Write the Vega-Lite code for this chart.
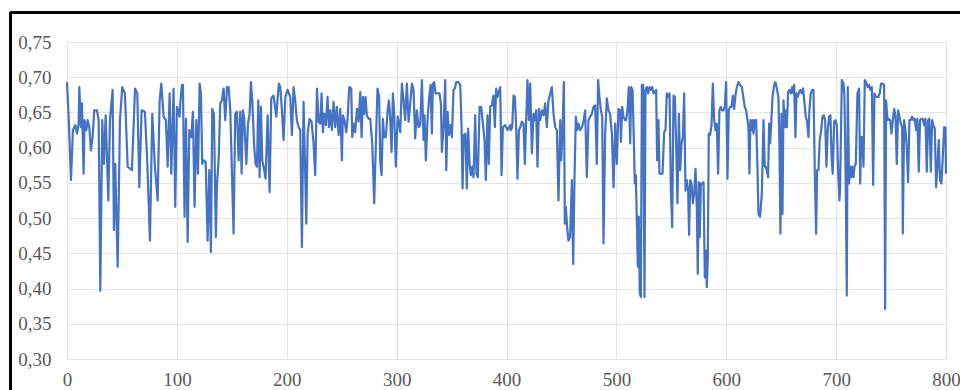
{
  "$schema": "https://vega.github.io/schema/vega-lite/v6.json",
  "width": 879,
  "height": 317,
  "autosize": {"type": "none"},
  "padding": {"left": 67, "top": 42, "right": 14, "bottom": 31},
  "background": "white",
  "config": {
    "view": {"stroke": null},
    "locale": {"number": {"decimal": ",", "thousands": " ", "grouping": [3], "currency": ["", ""]}}
  },
  "data": {"values": [
    {"t":0,"v":0.693},{"t":1.5,"v":0.644},{"t":3.6,"v":0.554},{"t":5.4,"v":0.625},{"t":7.6,"v":0.632},{"t":9.1,"v":0.620},{"t":10.6,"v":0.634},{"t":11.2,"v":0.686},{"t":12.7,"v":0.629},{"t":13.6,"v":0.663},{"t":15.1,"v":0.563},{"t":16.0,"v":0.639},{"t":17.6,"v":0.625},{"t":18.8,"v":0.639},{"t":20.3,"v":0.629},{"t":21.8,"v":0.596},{"t":23.3,"v":0.615},{"t":24.8,"v":0.653},{"t":27.3,"v":0.653},{"t":28.8,"v":0.639},{"t":30.3,"v":0.397},{"t":32.1,"v":0.639},{"t":33.6,"v":0.577},{"t":35.2,"v":0.646},{"t":37.6,"v":0.525},{"t":39.1,"v":0.639},{"t":41.5,"v":0.682},{"t":42.7,"v":0.483},{"t":43.9,"v":0.577},{"t":46.1,"v":0.431},{"t":48.2,"v":0.639},{"t":50.3,"v":0.686},{"t":52.7,"v":0.677},{"t":55.2,"v":0.573},{"t":59.1,"v":0.568},{"t":61.9,"v":0.684},{"t":64.0,"v":0.677},{"t":65.8,"v":0.544},{"t":67.9,"v":0.653},{"t":70.9,"v":0.651},{"t":73.1,"v":0.577},{"t":75.5,"v":0.468},{"t":77.6,"v":0.648},{"t":80.0,"v":0.573},{"t":82.5,"v":0.525},{"t":84.3,"v":0.667},{"t":85.8,"v":0.691},{"t":87.9,"v":0.644},{"t":90.0,"v":0.639},{"t":91.6,"v":0.573},{"t":93.4,"v":0.677},{"t":94.9,"v":0.563},{"t":97.0,"v":0.684},{"t":98.5,"v":0.516},{"t":100.1,"v":0.658},{"t":102.5,"v":0.644},
    {"t":103.1,"v":0.663},{"t":104.6,"v":0.689},{"t":105.5,"v":0.689},{"t":106.1,"v":0.615},{"t":107.0,"v":0.502},{"t":108.3,"v":0.641},{"t":109.8,"v":0.466},{"t":111.3,"v":0.625},{"t":113.1,"v":0.615},{"t":114.6,"v":0.651},{"t":116.1,"v":0.516},{"t":117.7,"v":0.639},{"t":119.2,"v":0.563},{"t":120.7,"v":0.691},{"t":121.9,"v":0.677},{"t":123.1,"v":0.577},{"t":124.3,"v":0.582},{"t":126.2,"v":0.580},{"t":128.0,"v":0.468},{"t":129.5,"v":0.568},{"t":131.0,"v":0.452},{"t":132.2,"v":0.655},{"t":133.7,"v":0.648},{"t":135.5,"v":0.473},{"t":136.5,"v":0.549},{"t":138.0,"v":0.582},{"t":139.5,"v":0.663},{"t":141.0,"v":0.667},{"t":142.5,"v":0.684},{"t":144.0,"v":0.639},{"t":145.6,"v":0.686},{"t":147.1,"v":0.686},{"t":148.6,"v":0.653},{"t":151.6,"v":0.478},{"t":153.1,"v":0.648},{"t":154.7,"v":0.651},{"t":156.2,"v":0.582},{"t":157.7,"v":0.651},{"t":158.9,"v":0.563},{"t":160.1,"v":0.653},{"t":161.3,"v":0.641},{"t":163.2,"v":0.577},{"t":164.7,"v":0.634},{"t":166.2,"v":0.648},{"t":167.4,"v":0.693},{"t":168.6,"v":0.667},{"t":170.4,"v":0.601},{"t":171.6,"v":0.577},{"t":172.9,"v":0.573},{"t":174.1,"v":0.667},{"t":175.3,"v":0.558},{"t":176.5,"v":0.658},{"t":177.7,"v":0.582},{"t":178.9,"v":0.573},{"t":180.7,"v":0.556},{"t":182.6,"v":0.646},{"t":184.4,"v":0.537},{"t":185.9,"v":0.670},{"t":188.0,"v":0.674},{"t":190.5,"v":0.644},{"t":191.7,"v":0.670},{"t":192.9,"v":0.691},{"t":194.1,"v":0.686},{"t":195.6,"v":0.653},{"t":197.1,"v":0.611},{"t":198.7,"v":0.672},{"t":200.8,"v":0.682},{"t":203.2,"v":0.672},
    {"t":204.7,"v":0.618},{"t":206.2,"v":0.686},{"t":207.7,"v":0.667},{"t":209.2,"v":0.639},{"t":210.8,"v":0.629},{"t":212.3,"v":0.625},{"t":213.8,"v":0.459},{"t":215.3,"v":0.665},{"t":216.8,"v":0.563},{"t":217.8,"v":0.492},{"t":219.0,"v":0.620},{"t":220.8,"v":0.641},{"t":222.6,"v":0.637},{"t":224.4,"v":0.606},{"t":225.9,"v":0.561},{"t":227.5,"v":0.684},{"t":229.0,"v":0.637},{"t":230.5,"v":0.634},{"t":231.7,"v":0.677},{"t":232.9,"v":0.622},{"t":234.1,"v":0.648},{"t":235.6,"v":0.632},{"t":237.1,"v":0.672},{"t":238.4,"v":0.629},{"t":239.6,"v":0.653},{"t":241.1,"v":0.625},{"t":242.6,"v":0.665},{"t":244.1,"v":0.629},{"t":245.6,"v":0.658},{"t":247.2,"v":0.618},{"t":248.7,"v":0.655},{"t":250.2,"v":0.582},{"t":251.1,"v":0.646},{"t":252.6,"v":0.639},{"t":254.1,"v":0.622},{"t":255.3,"v":0.639},{"t":256.9,"v":0.686},{"t":258.7,"v":0.684},{"t":259.6,"v":0.615},{"t":260.8,"v":0.634},{"t":262.3,"v":0.622},{"t":263.9,"v":0.655},{"t":265.4,"v":0.637},{"t":266.9,"v":0.679},{"t":268.1,"v":0.615},{"t":269.3,"v":0.672},{"t":270.5,"v":0.648},{"t":271.7,"v":0.672},{"t":272.9,"v":0.646},{"t":274.5,"v":0.641},{"t":276.0,"v":0.641},{"t":277.8,"v":0.606},{"t":279.6,"v":0.521},{"t":281.1,"v":0.606},{"t":282.6,"v":0.684},{"t":284.1,"v":0.672},{"t":285.1,"v":0.580},{"t":286.3,"v":0.561},{"t":287.5,"v":0.641},{"t":288.7,"v":0.615},{"t":290.2,"v":0.615},{"t":291.8,"v":0.653},{"t":293.0,"v":0.667},{"t":294.2,"v":0.641},{"t":295.4,"v":0.594},{"t":296.6,"v":0.677},{"t":297.8,"v":0.648},{"t":299.3,"v":0.573},{"t":300.9,"v":0.644},{"t":302.7,"v":0.629},
    {"t":303.3,"v":0.622},{"t":304.8,"v":0.691},{"t":306.3,"v":0.667},{"t":307.8,"v":0.639},{"t":309.3,"v":0.691},{"t":310.9,"v":0.637},{"t":312.4,"v":0.663},{"t":313.9,"v":0.691},{"t":315.4,"v":0.682},{"t":316.9,"v":0.613},{"t":318.4,"v":0.653},{"t":320.0,"v":0.629},{"t":321.5,"v":0.632},{"t":323.0,"v":0.696},{"t":324.5,"v":0.611},{"t":325.4,"v":0.646},{"t":326.6,"v":0.582},{"t":328.2,"v":0.641},{"t":329.7,"v":0.672},{"t":330.9,"v":0.689},{"t":332.1,"v":0.620},{"t":333.0,"v":0.691},{"t":334.2,"v":0.693},{"t":335.4,"v":0.677},{"t":337.2,"v":0.677},{"t":339.0,"v":0.677},{"t":340.3,"v":0.663},{"t":341.2,"v":0.594},{"t":342.7,"v":0.629},{"t":344.2,"v":0.696},{"t":345.2,"v":0.568},{"t":346.4,"v":0.651},{"t":347.6,"v":0.618},{"t":348.8,"v":0.632},{"t":350.3,"v":0.615},{"t":351.8,"v":0.682},{"t":353.0,"v":0.684},{"t":354.2,"v":0.693},{"t":356.3,"v":0.693},{"t":357.9,"v":0.689},{"t":359.1,"v":0.629},{"t":360.0,"v":0.542},{"t":361.2,"v":0.618},{"t":362.7,"v":0.620},{"t":363.9,"v":0.542},{"t":365.1,"v":0.627},{"t":366.4,"v":0.577},{"t":367.6,"v":0.561},{"t":368.8,"v":0.573},{"t":370.0,"v":0.558},{"t":371.5,"v":0.646},{"t":372.7,"v":0.563},{"t":373.9,"v":0.558},{"t":375.5,"v":0.658},{"t":377.0,"v":0.658},{"t":378.5,"v":0.634},{"t":380.0,"v":0.611},{"t":381.2,"v":0.554},{"t":382.7,"v":0.646},{"t":383.9,"v":0.577},{"t":385.2,"v":0.658},{"t":386.7,"v":0.660},{"t":388.2,"v":0.674},{"t":389.4,"v":0.629},{"t":390.6,"v":0.684},{"t":391.8,"v":0.672},{"t":393.0,"v":0.679},{"t":394.3,"v":0.686},{"t":395.5,"v":0.561},{"t":396.7,"v":0.629},{"t":398.8,"v":0.632},{"t":400.9,"v":0.625},{"t":403.4,"v":0.632},
    {"t":404.0,"v":0.625},{"t":405.2,"v":0.629},{"t":406.4,"v":0.674},{"t":407.6,"v":0.672},{"t":408.8,"v":0.629},{"t":410.0,"v":0.556},{"t":411.3,"v":0.625},{"t":412.5,"v":0.629},{"t":414.0,"v":0.637},{"t":415.5,"v":0.634},{"t":416.7,"v":0.577},{"t":417.9,"v":0.639},{"t":419.1,"v":0.696},{"t":420.4,"v":0.639},{"t":421.6,"v":0.691},{"t":423.1,"v":0.592},{"t":424.6,"v":0.648},{"t":426.1,"v":0.639},{"t":427.0,"v":0.653},{"t":428.2,"v":0.573},{"t":429.5,"v":0.655},{"t":430.7,"v":0.639},{"t":432.2,"v":0.653},{"t":433.7,"v":0.646},{"t":435.2,"v":0.663},{"t":436.7,"v":0.629},{"t":438.2,"v":0.667},{"t":439.8,"v":0.677},{"t":441.3,"v":0.686},{"t":442.8,"v":0.648},{"t":444.3,"v":0.629},{"t":445.8,"v":0.625},{"t":447.3,"v":0.525},{"t":448.9,"v":0.639},{"t":449.8,"v":0.582},{"t":451.0,"v":0.625},{"t":452.2,"v":0.693},{"t":453.1,"v":0.492},{"t":454.0,"v":0.516},{"t":455.2,"v":0.487},{"t":456.4,"v":0.468},{"t":457.9,"v":0.473},{"t":459.5,"v":0.554},{"t":460.7,"v":0.435},{"t":461.9,"v":0.558},{"t":463.1,"v":0.644},{"t":464.3,"v":0.625},{"t":465.5,"v":0.634},{"t":467.0,"v":0.625},{"t":468.6,"v":0.629},{"t":470.1,"v":0.637},{"t":471.6,"v":0.653},{"t":473.1,"v":0.558},{"t":474.6,"v":0.639},{"t":476.1,"v":0.644},{"t":477.7,"v":0.648},{"t":479.2,"v":0.658},{"t":480.7,"v":0.660},{"t":482.2,"v":0.577},{"t":483.4,"v":0.696},{"t":484.6,"v":0.672},{"t":485.9,"v":0.653},{"t":487.1,"v":0.644},{"t":488.3,"v":0.464},{"t":489.8,"v":0.620},{"t":491.3,"v":0.670},{"t":492.8,"v":0.653},{"t":494.3,"v":0.648},{"t":495.9,"v":0.620},{"t":497.4,"v":0.544},{"t":498.9,"v":0.634},{"t":500.4,"v":0.577},{"t":501.9,"v":0.655},{"t":503.5,"v":0.653},
    {"t":504.1,"v":0.608},{"t":505.3,"v":0.658},{"t":506.5,"v":0.644},{"t":507.7,"v":0.639},{"t":508.9,"v":0.639},{"t":510.1,"v":0.653},{"t":511.3,"v":0.686},{"t":512.6,"v":0.606},{"t":513.5,"v":0.686},{"t":514.7,"v":0.682},{"t":515.6,"v":0.629},{"t":516.8,"v":0.549},{"t":517.7,"v":0.561},{"t":518.6,"v":0.497},{"t":519.5,"v":0.431},{"t":520.4,"v":0.502},{"t":521.3,"v":0.393},{"t":522.3,"v":0.388},{"t":523.2,"v":0.689},{"t":524.4,"v":0.689},{"t":525.6,"v":0.388},{"t":526.5,"v":0.682},{"t":527.7,"v":0.686},{"t":528.9,"v":0.677},{"t":530.2,"v":0.686},{"t":531.4,"v":0.682},{"t":532.6,"v":0.686},{"t":533.8,"v":0.677},{"t":535.0,"v":0.679},{"t":536.2,"v":0.682},{"t":537.1,"v":0.582},{"t":538.3,"v":0.639},{"t":539.2,"v":0.563},{"t":540.5,"v":0.563},{"t":542.0,"v":0.563},{"t":543.5,"v":0.622},{"t":544.7,"v":0.625},{"t":545.9,"v":0.677},{"t":547.1,"v":0.672},{"t":548.4,"v":0.677},{"t":549.6,"v":0.539},{"t":550.8,"v":0.487},{"t":552.0,"v":0.674},{"t":553.2,"v":0.672},{"t":554.4,"v":0.606},{"t":555.6,"v":0.521},{"t":556.9,"v":0.648},{"t":558.1,"v":0.568},{"t":559.3,"v":0.606},{"t":560.5,"v":0.615},{"t":561.7,"v":0.677},{"t":562.9,"v":0.539},{"t":564.1,"v":0.554},{"t":565.3,"v":0.539},{"t":566.2,"v":0.476},{"t":567.2,"v":0.554},{"t":568.4,"v":0.549},{"t":569.6,"v":0.521},{"t":570.8,"v":0.535},{"t":572.0,"v":0.570},{"t":573.2,"v":0.516},{"t":574.1,"v":0.421},{"t":575.0,"v":0.551},{"t":575.9,"v":0.473},{"t":576.9,"v":0.549},{"t":578.1,"v":0.549},{"t":579.3,"v":0.551},{"t":580.5,"v":0.416},{"t":581.4,"v":0.454},{"t":582.3,"v":0.402},{"t":583.2,"v":0.440},{"t":584.1,"v":0.620},{"t":585.3,"v":0.618},{"t":586.6,"v":0.632},{"t":587.8,"v":0.691},{"t":589.0,"v":0.639},{"t":590.2,"v":0.625},{"t":591.4,"v":0.634},{"t":592.6,"v":0.563},{"t":593.8,"v":0.653},{"t":595.0,"v":0.658},{"t":596.3,"v":0.653},{"t":597.5,"v":0.653},{"t":598.7,"v":0.658},{"t":599.9,"v":0.693},{"t":601.1,"v":0.556},{"t":602.3,"v":0.653},{"t":603.5,"v":0.658},
    {"t":604.8,"v":0.658},{"t":606.0,"v":0.674},{"t":607.2,"v":0.655},{"t":608.4,"v":0.674},{"t":609.6,"v":0.686},{"t":611.1,"v":0.693},{"t":612.6,"v":0.689},{"t":614.2,"v":0.686},{"t":615.7,"v":0.670},{"t":616.9,"v":0.658},{"t":618.1,"v":0.653},{"t":619.3,"v":0.639},{"t":620.2,"v":0.629},{"t":621.1,"v":0.563},{"t":622.0,"v":0.639},{"t":623.0,"v":0.625},{"t":623.9,"v":0.639},{"t":624.8,"v":0.620},{"t":626.0,"v":0.639},{"t":627.2,"v":0.639},{"t":628.4,"v":0.573},{"t":629.3,"v":0.506},{"t":630.8,"v":0.502},{"t":632.4,"v":0.535},{"t":633.9,"v":0.639},{"t":635.1,"v":0.573},{"t":636.0,"v":0.573},{"t":636.9,"v":0.568},{"t":638.1,"v":0.558},{"t":639.0,"v":0.634},{"t":639.9,"v":0.606},{"t":640.9,"v":0.634},{"t":642.1,"v":0.672},{"t":643.6,"v":0.689},{"t":644.8,"v":0.693},{"t":646.0,"v":0.684},{"t":647.5,"v":0.672},{"t":648.4,"v":0.606},{"t":649.3,"v":0.478},{"t":650.3,"v":0.648},{"t":651.2,"v":0.506},{"t":652.1,"v":0.667},{"t":653.3,"v":0.629},{"t":654.2,"v":0.653},{"t":655.1,"v":0.629},{"t":656.3,"v":0.679},{"t":657.5,"v":0.682},{"t":658.8,"v":0.677},{"t":660.0,"v":0.686},{"t":661.2,"v":0.677},{"t":661.8,"v":0.689},{"t":663.0,"v":0.615},{"t":663.9,"v":0.677},{"t":665.1,"v":0.672},{"t":666.3,"v":0.679},{"t":667.5,"v":0.682},{"t":668.7,"v":0.677},{"t":669.9,"v":0.684},{"t":671.2,"v":0.663},{"t":672.4,"v":0.644},{"t":673.6,"v":0.637},{"t":674.8,"v":0.615},{"t":675.7,"v":0.653},{"t":676.9,"v":0.677},{"t":678.2,"v":0.682},{"t":679.4,"v":0.682},{"t":680.6,"v":0.563},{"t":681.8,"v":0.478},{"t":682.7,"v":0.568},{"t":683.9,"v":0.568},{"t":685.1,"v":0.611},{"t":686.4,"v":0.625},{"t":687.6,"v":0.644},{"t":688.8,"v":0.646},{"t":690.0,"v":0.639},{"t":691.2,"v":0.573},{"t":692.4,"v":0.625},{"t":693.6,"v":0.644},{"t":694.8,"v":0.646},{"t":696.0,"v":0.582},{"t":696.9,"v":0.563},{"t":698.2,"v":0.637},{"t":699.4,"v":0.639},{"t":700.6,"v":0.632},{"t":701.8,"v":0.568},{"t":703.0,"v":0.525},
    {"t":703.6,"v":0.544},{"t":705.2,"v":0.696},{"t":706.7,"v":0.691},{"t":707.6,"v":0.672},{"t":708.8,"v":0.544},{"t":709.7,"v":0.390},{"t":710.6,"v":0.686},{"t":711.8,"v":0.549},{"t":712.7,"v":0.573},{"t":713.6,"v":0.558},{"t":714.6,"v":0.573},{"t":715.8,"v":0.558},{"t":716.7,"v":0.573},{"t":717.9,"v":0.577},{"t":719.4,"v":0.677},{"t":720.9,"v":0.684},{"t":721.9,"v":0.549},{"t":722.8,"v":0.615},{"t":723.7,"v":0.615},{"t":724.9,"v":0.573},{"t":726.1,"v":0.696},{"t":727.3,"v":0.693},{"t":728.8,"v":0.686},{"t":730.0,"v":0.689},{"t":731.2,"v":0.682},{"t":732.5,"v":0.686},{"t":733.7,"v":0.547},{"t":734.9,"v":0.677},{"t":736.1,"v":0.672},{"t":737.3,"v":0.672},{"t":738.5,"v":0.672},{"t":739.7,"v":0.677},{"t":740.9,"v":0.691},{"t":742.4,"v":0.691},{"t":743.7,"v":0.689},{"t":744.6,"v":0.371},{"t":745.5,"v":0.667},{"t":746.7,"v":0.639},{"t":747.9,"v":0.641},{"t":749.2,"v":0.639},{"t":750.4,"v":0.620},{"t":751.6,"v":0.639},{"t":752.8,"v":0.655},{"t":754.0,"v":0.646},{"t":755.2,"v":0.577},{"t":756.4,"v":0.653},{"t":757.7,"v":0.644},{"t":758.9,"v":0.634},{"t":760.1,"v":0.629},{"t":760.7,"v":0.478},{"t":761.9,"v":0.639},{"t":763.1,"v":0.625},{"t":764.3,"v":0.601},{"t":765.5,"v":0.551},{"t":766.7,"v":0.639},{"t":767.9,"v":0.639},{"t":769.1,"v":0.644},{"t":770.4,"v":0.639},{"t":771.6,"v":0.641},{"t":772.8,"v":0.625},{"t":774.0,"v":0.641},{"t":775.2,"v":0.566},{"t":776.4,"v":0.639},{"t":777.7,"v":0.641},{"t":778.9,"v":0.641},{"t":780.1,"v":0.632},{"t":781.3,"v":0.641},{"t":782.5,"v":0.566},{"t":783.7,"v":0.639},{"t":784.9,"v":0.641},{"t":786.2,"v":0.566},{"t":787.4,"v":0.639},{"t":788.6,"v":0.632},{"t":789.8,"v":0.627},{"t":791.0,"v":0.544},{"t":792.2,"v":0.573},{"t":793.4,"v":0.611},{"t":794.6,"v":0.554},{"t":795.8,"v":0.549},{"t":797.1,"v":0.587},{"t":798.3,"v":0.629},{"t":799.5,"v":0.629},{"t":800.0,"v":0.563}
  ]},
  "layer": [
    {
      "mark": {"type": "line", "color": "#4472C4", "strokeWidth": 2.2, "strokeJoin": "round"},
      "encoding": {
        "x": {
          "field": "t", "type": "quantitative",
          "scale": {"domain": [0, 800], "nice": false, "zero": false},
          "axis": {
            "title": null, "values": [0, 100, 200, 300, 400, 500, 600, 700, 800], "tickCount": 20, "format": "d",
            "domain": false, "ticks": false, "tickSize": 0, "grid": true, "gridColor": "#e4e4e4", "gridWidth": 1,
            "labelFont": "Liberation Serif", "labelFontSize": 19, "labelColor": "#595959", "labelPadding": 11,
            "labelFlush": false, "labelOverlap": false
          }
        },
        "y": {
          "field": "v", "type": "quantitative",
          "scale": {"domain": [0.3, 0.75], "nice": false, "zero": false},
          "axis": {
            "title": null, "values": [0.3, 0.35, 0.4, 0.45, 0.5, 0.55, 0.6, 0.65, 0.7, 0.75], "tickCount": 20, "format": ".2f",
            "domain": false, "ticks": false, "tickSize": 0, "grid": true, "gridColor": "#e4e4e4", "gridWidth": 1,
            "labelFont": "Liberation Serif", "labelFontSize": 19, "labelColor": "#595959", "labelPadding": 16,
            "labelFlush": false, "labelOverlap": false
          }
        }
      }
    },
    {
      "mark": {"type": "rect", "fill": null, "fillOpacity": 0, "stroke": "black", "strokeWidth": 2, "clip": false},
      "encoding": {
        "x": {"datum": -51},
        "x2": {"datum": 830},
        "y": {"datum": 0.7916},
        "y2": {"datum": 0.2}
      }
    }
  ]
}
